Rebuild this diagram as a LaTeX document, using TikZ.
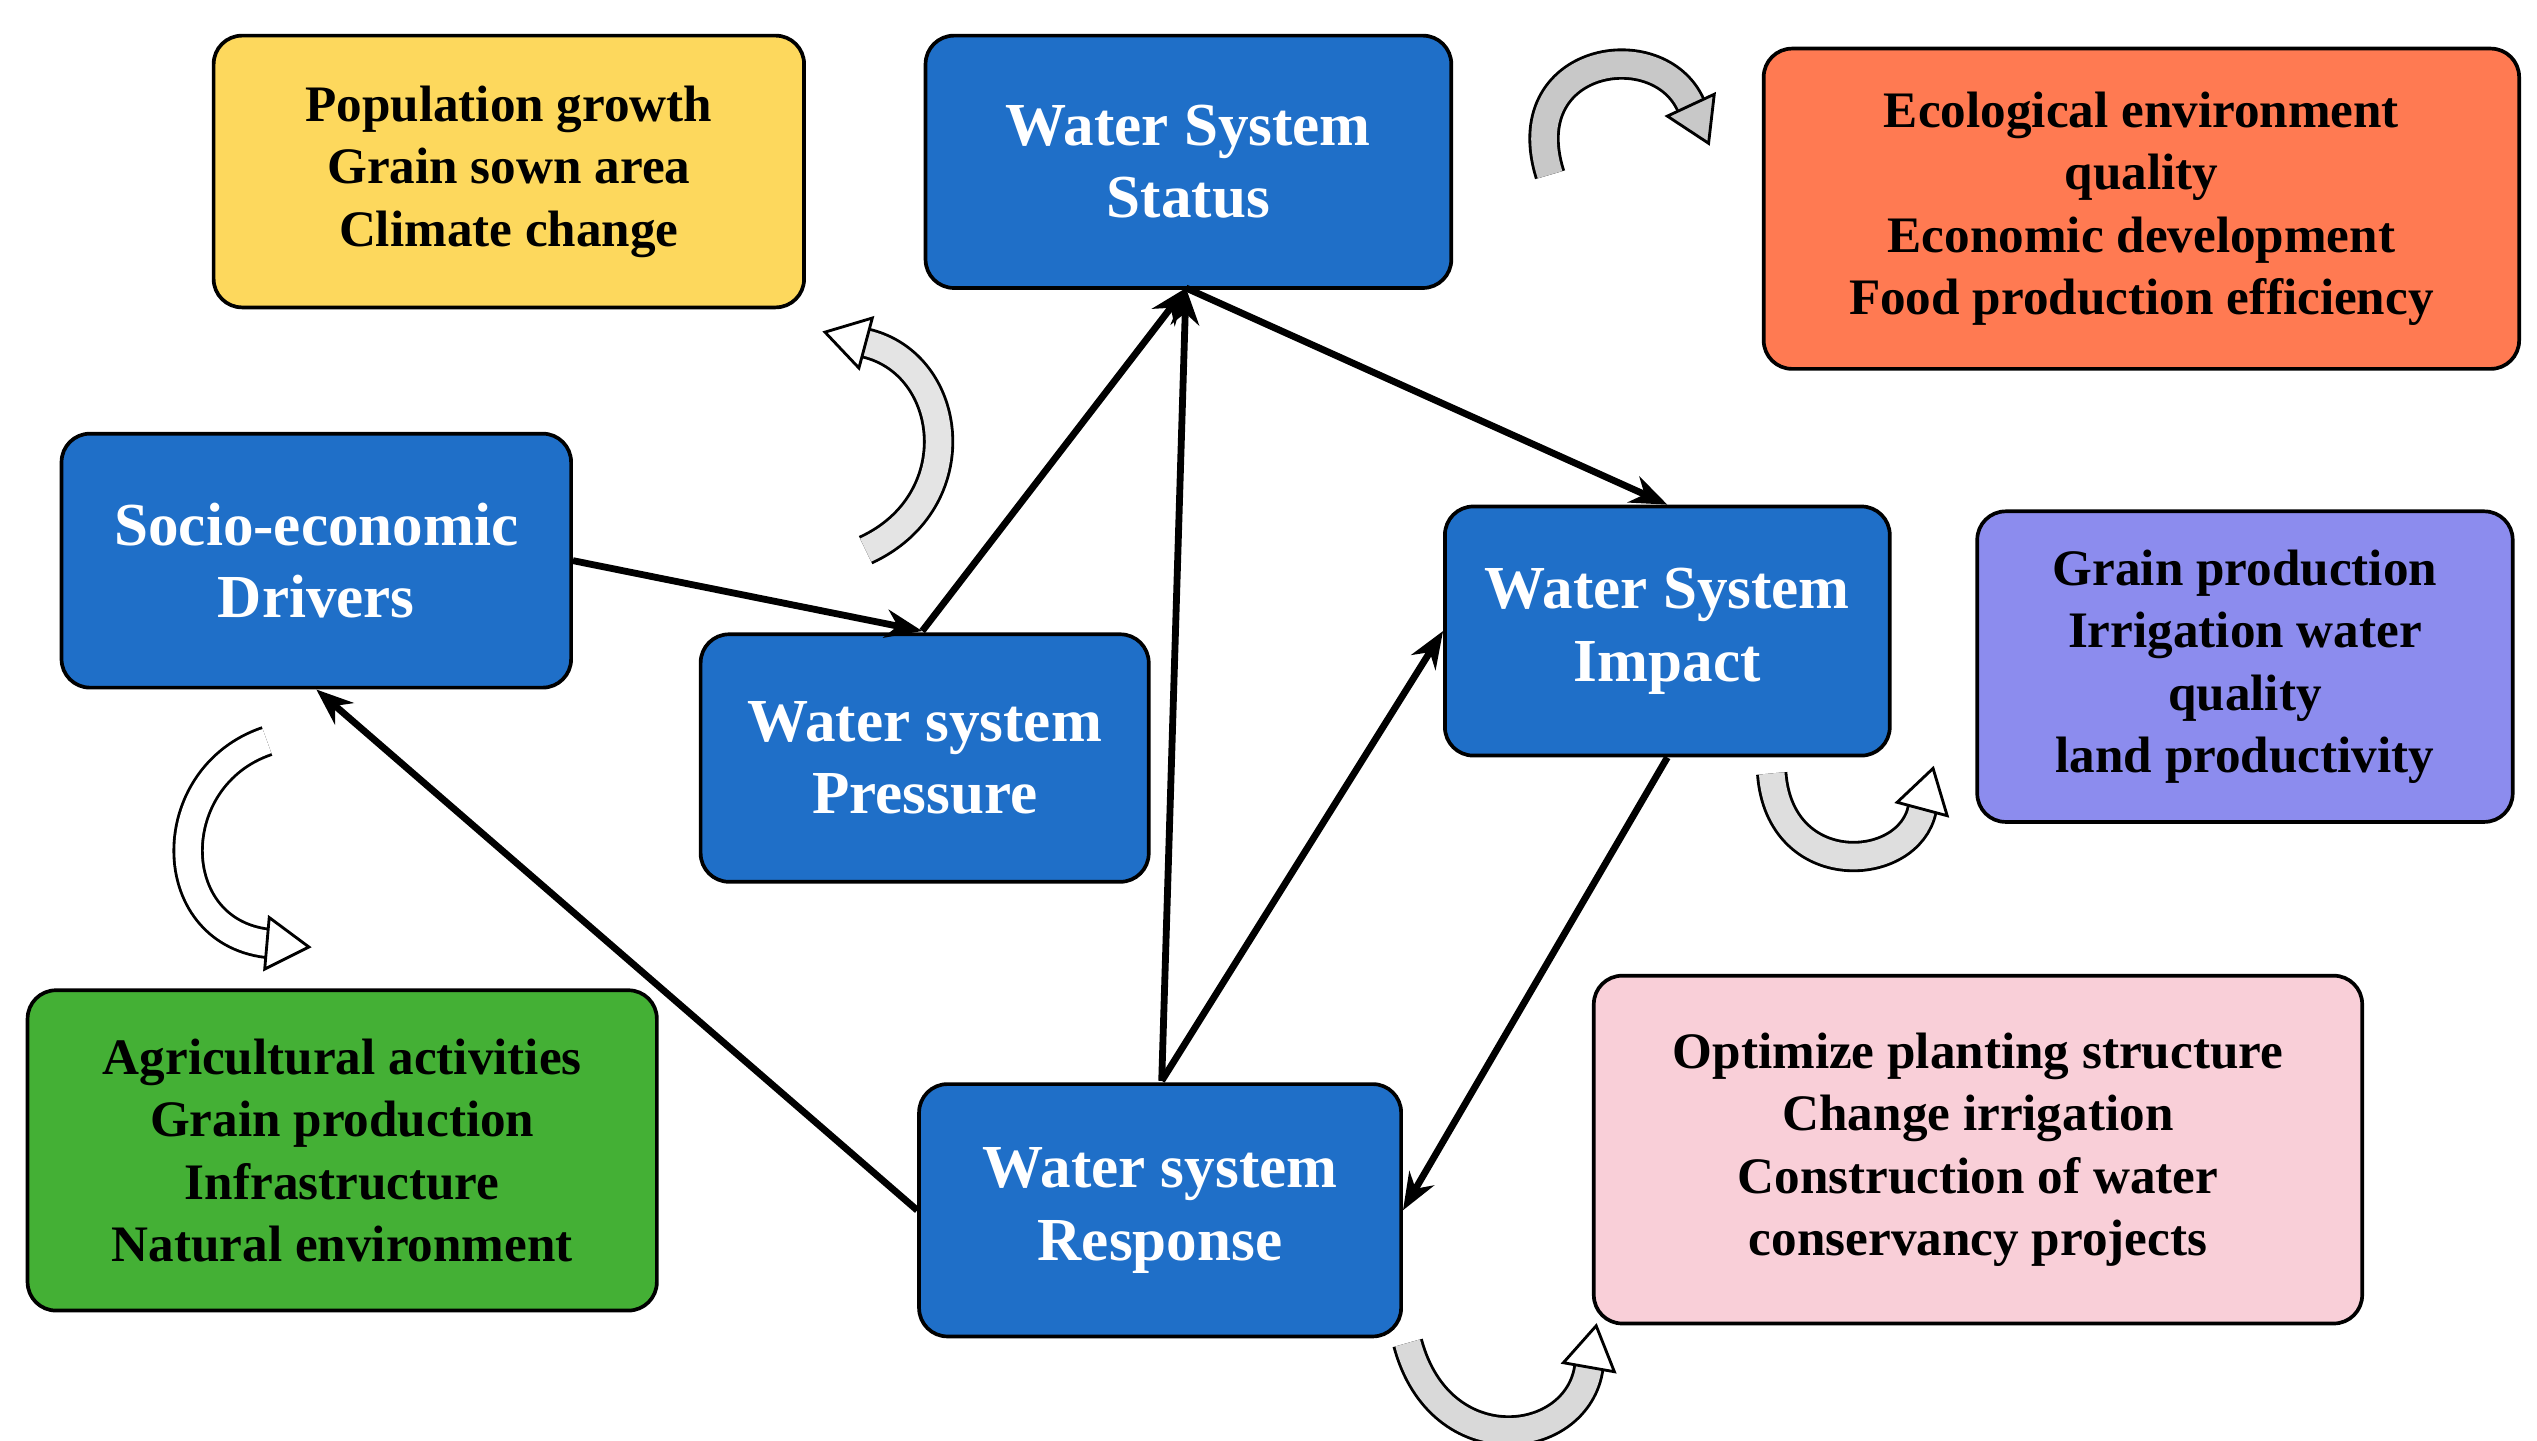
\documentclass[tikz,border=0pt]{standalone}
\usepackage{fontspec}
\setmainfont{Liberation Serif}
\usetikzlibrary{arrows.meta}
\definecolor{bblue}{HTML}{1F6FC8}
\definecolor{byel}{HTML}{FDD85D}
\definecolor{bora}{HTML}{FF7A52}
\definecolor{bpur}{HTML}{8C8CEE}
\definecolor{bgrn}{HTML}{44B035}
\definecolor{bpink}{HTML}{F9CFD8}
\definecolor{agray}{HTML}{C8C8C8}
\begin{document}
\begin{tikzpicture}[x=0.02cm,y=0.02cm,
  box/.style={draw=black,line width=1.3pt,rounded corners=10pt,align=center,font=\bfseries\fontsize{18}{22}\selectfont,inner sep=0pt},
  bluebox/.style={box,fill=bblue,text=white,font=\bfseries\fontsize{21.5}{25.5}\selectfont},
  conn/.style={line width=2.4pt,-{Stealth[length=13pt,width=10pt]}},
  shaft/.style={line width=1pt,double distance=9pt}]
\useasboundingbox (0,0) rectangle (1568,-890);
\node[box,fill=byel,minimum width=7.3cm,minimum height=3.36cm] (yel) at (314.5,-106) {Population growth\\Grain sown area\\Climate change};
\node[bluebox,minimum width=6.5cm,minimum height=3.12cm] (st) at (734.5,-100) {Water System\\Status};
\node[box,fill=bora,minimum width=9.34cm,minimum height=3.96cm] (ora) at (1323.5,-129) {Ecological environment\\quality\\Economic development\\Food production efficiency};
\node[bluebox,minimum width=6.3cm,minimum height=3.14cm] (soc) at (195.5,-346.5) {Socio-economic\\Drivers};
\node[bluebox,minimum width=5.54cm,minimum height=3.06cm] (pr) at (571.5,-468.5) {Water system\\Pressure};
\node[bluebox,minimum width=5.5cm,minimum height=3.08cm] (im) at (1030.5,-390) {Water System\\Impact};
\node[box,fill=bpur,minimum width=6.62cm,minimum height=3.84cm] (pur) at (1387.5,-412) {Grain production\\Irrigation water\\quality\\land productivity};
\node[box,fill=bgrn,minimum width=7.78cm,minimum height=3.96cm] (grn) at (211.5,-711) {Agricultural activities\\Grain production\\Infrastructure\\Natural environment};
\node[bluebox,minimum width=5.96cm,minimum height=3.12cm] (re) at (717,-748) {Water system\\Response};
\node[box,fill=bpink,minimum width=9.5cm,minimum height=4.3cm] (pk) at (1222.5,-710.5) {Optimize planting structure\\Change irrigation\\Construction of water\\conservancy projects};
% connectors
\coordinate (prT) at (570,-390);
\coordinate (stB) at (733,-178);
\coordinate (reT) at (718,-668);
\draw[conn] (soc.east) -- (prT);
\draw[conn] (prT) -- (stB);
\draw[conn] (stB) -- (im.north);
\draw[conn] (reT) -- (stB);
\draw[conn] (reT) -- (im.west);
\draw[conn] (im.south) -- (re.east);
\draw[conn] (re.west) -- (soc.south);
% curved hollow arrows
\newcommand{\hhead}[3]{\draw[fill=#1,line width=1pt,shift={(#2)},rotate=#3] (0,-16)--(26,0)--(0,16)--cycle;}
\draw[shaft,double=agray] (958,-108) .. controls (935,-35) and (1025,-20) .. (1045,-65);
\hhead{agray}{1045,-65}{-65}
\draw[shaft,double=agray!50] (535,-340) .. controls (600,-310) and (590,-225) .. (535,-212);
\hhead{white}{535,-212}{165}
\draw[shaft,double=white] (165,-458) .. controls (100,-480) and (100,-575) .. (165,-583);
\hhead{white}{165,-583}{-5}
\draw[shaft,double=agray!60] (1095,-478) .. controls (1100,-545) and (1180,-540) .. (1188,-500);
\hhead{white}{1188,-500}{75}
\draw[shaft,double=agray!70] (870,-830) .. controls (890,-905) and (975,-895) .. (982,-845);
\hhead{white}{982,-845}{80}
\end{tikzpicture}
\end{document}
